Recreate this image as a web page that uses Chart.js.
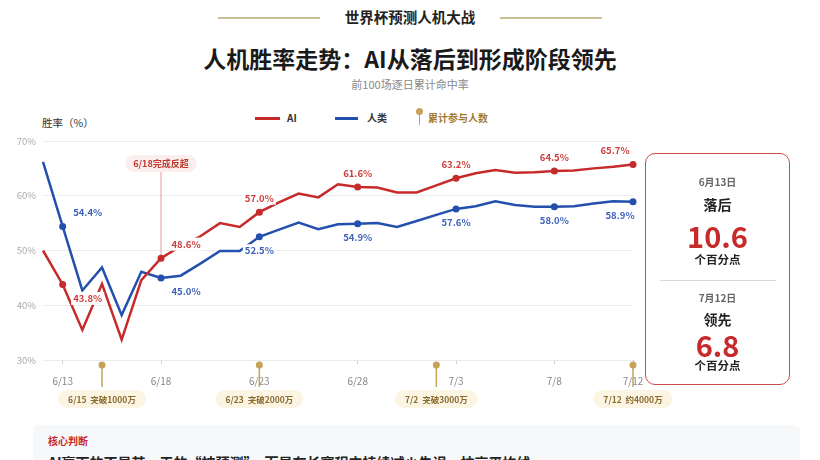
<!DOCTYPE html>
<html>
<head>
<meta charset="utf-8">
<script src="https://cdn.jsdelivr.net/npm/chart.js@4.4.1/dist/chart.umd.min.js"></script>
<style>
  body { margin: 0; width: 820px; height: 460px; overflow: hidden; background: #fff;
         font-family: "Noto Sans CJK SC", "Noto Sans", sans-serif; position: relative; }
  .abs { position: absolute; }
  .center { left: 0; width: 820px; text-align: center; }
  .gold-line { position: absolute; height: 1.5px; background: #cbbf93; top: 17px; }
  #chart-wrap { position: absolute; left: 0; top: 100px; width: 680px; height: 320px; }
  .box { position: absolute; left: 645px; top: 153px; width: 143px; height: 230px;
         border: 1.5px solid #cc4b4b; border-radius: 10px; background: #fff; }
  .box div { position: absolute; left: 0; width: 100%; text-align: center; }
  .panel { position: absolute; left: 33px; top: 425px; width: 767px; height: 60px;
           background: #f7f8fa; border-radius: 6px; }
</style>
</head>
<body>
<div class="gold-line" style="left:218px;width:102px"></div>
<div class="gold-line" style="left:500px;width:102px"></div>
<div class="abs center" style="top:6px;font-size:14.5px;font-weight:700;color:#222;line-height:22px">世界杯预测人机大战</div>
<div class="abs center" style="top:42px;font-size:23px;font-weight:700;color:#1a1a1a;line-height:32px">人机胜率走势：AI从落后到形成阶段领先</div>
<div class="abs center" style="top:76px;font-size:11px;color:#888;line-height:16px">前100场逐日累计命中率</div>

<div class="abs" style="left:42px;top:115px;font-size:10.5px;color:#333;line-height:16px">胜率（%）</div>

<!-- legend -->
<div class="abs" style="left:255px;top:116.5px;width:25px;height:3px;background:#c62a2a"></div>
<div class="abs" style="left:287px;top:110px;font-size:10px;font-weight:700;color:#333;line-height:16px">AI</div>
<div class="abs" style="left:335px;top:116.5px;width:23px;height:3px;background:#2350ad"></div>
<div class="abs" style="left:367px;top:110px;font-size:10px;font-weight:700;color:#333;line-height:16px">人类</div>
<div class="abs" style="left:415.5px;top:108px;width:7px;height:7px;border-radius:50%;background:#c9a25a"></div>
<div class="abs" style="left:418.5px;top:113px;width:1.5px;height:12px;background:#c9a25a"></div>
<div class="abs" style="left:428px;top:110px;font-size:10px;font-weight:700;color:#a27a34;line-height:16px">累计参与人数</div>

<div id="chart-wrap"><canvas id="chart" width="680" height="320"></canvas></div>

<div class="box">
  <div style="top:20px;font-size:10px;font-weight:700;color:#666;line-height:16px">6月13日</div>
  <div style="top:39px;font-size:14px;font-weight:700;color:#222;line-height:22px">落后</div>
  <div style="top:63px;font-size:29px;font-weight:700;color:#c62a2a;line-height:36px">10.6</div>
  <div style="top:96px;font-size:11.5px;font-weight:700;color:#222;line-height:18px">个百分点</div>
  <div style="top:126px;left:14px;width:116px;height:1px;background:#d8d8d8"></div>
  <div style="top:136px;font-size:10px;font-weight:700;color:#666;line-height:16px">7月12日</div>
  <div style="top:154px;font-size:14px;font-weight:700;color:#222;line-height:22px">领先</div>
  <div style="top:172px;font-size:29px;font-weight:700;color:#c62a2a;line-height:36px">6.8</div>
  <div style="top:202px;font-size:11.5px;font-weight:700;color:#222;line-height:18px">个百分点</div>
</div>

<div class="panel">
  <div class="abs" style="left:15px;top:8px;font-size:10px;font-weight:700;color:#c62a2a;line-height:16px">核心判断</div>
  <div class="abs" style="left:15px;top:27px;font-size:14px;font-weight:700;color:#222;line-height:20px;white-space:nowrap">AI赢下的不是某一天的“神预测”，而是在长赛程中持续减少失误，拉高平均线</div>
</div>

<script>
const days = ['6/12', '6/13', '6/14', '6/15', '6/16', '6/17', '6/18', '6/19', '6/20', '6/21',
              '6/22', '6/23', '6/24', '6/25', '6/26', '6/27', '6/28', '6/29', '6/30', '7/1',
              '7/2', '7/3', '7/4', '7/5', '7/6', '7/7', '7/8', '7/9', '7/10', '7/11', '7/12'];

const aiRate = [50.0, 43.8, 35.5, 43.9, 33.7, 44.6, 48.6, 50.8, 52.6, 55.0,
                54.3, 57.0, 58.8, 60.4, 59.7, 62.1, 61.6, 61.5, 60.6, 60.6,
                61.9, 63.2, 64.1, 64.7, 64.2, 64.3, 64.5, 64.6, 65.0, 65.3, 65.7];

const humanRate = [66.2, 54.4, 42.7, 46.9, 38.2, 46.1, 45.0, 45.4, 47.6, 49.9,
                   49.9, 52.5, 53.8, 55.1, 53.9, 54.8, 54.9, 55.0, 54.3, 55.4,
                   56.5, 57.6, 58.1, 59.0, 58.3, 58.0, 58.0, 58.1, 58.6, 59.0, 58.9];

// days that get a dot, a value label and an x tick
const keyDays = ['6/13', '6/18', '6/23', '6/28', '7/3', '7/8', '7/12'];

// milestones of total participants
const milestoneDays = ['6/15', '6/23', '7/2', '7/12'];
const milestoneText = ['6/15  突破1000万', '6/23  突破2000万', '7/2  突破3000万', '7/12  约4000万'];

const overtakeDay = '6/18';
const overtakeText = '6/18完成反超';

const RED = '#c62a2a';
const BLUE = '#2350ad';
const GOLD = '#c9a25a';

const keyIdx = keyDays.map(d => days.indexOf(d));

function roundRect(ctx, x, y, w, h, r) {
    ctx.beginPath();
    ctx.moveTo(x + r, y);
    ctx.arcTo(x + w, y, x + w, y + h, r);
    ctx.arcTo(x + w, y + h, x, y + h, r);
    ctx.arcTo(x, y + h, x, y, r);
    ctx.arcTo(x, y, x + w, y, r);
    ctx.closePath();
}

const fontFamily = '"Noto Sans CJK SC", "Noto Sans", sans-serif';

const annotations = {
    id: 'annotations',
    beforeDatasetsDraw(chart) {
        // 6/18 overtake callout
        const ctx = chart.ctx;
        const xs = chart.scales.x, ys = chart.scales.y;
        const i = days.indexOf(overtakeDay);
        const x = xs.getPixelForValue(i);
        const yPt = ys.getPixelForValue(aiRate[i]);
        ctx.save();
        ctx.strokeStyle = '#e39a9a';
        ctx.lineWidth = 1;
        ctx.beginPath();
        ctx.moveTo(x, 72);
        ctx.lineTo(x, yPt);
        ctx.stroke();
        ctx.font = '700 9px ' + fontFamily;
        const w = ctx.measureText(overtakeText).width + 16;
        ctx.fillStyle = '#fbeeee';
        roundRect(ctx, x - w / 2, 55, w, 17, 8.5);
        ctx.fill();
        ctx.fillStyle = '#c0392b';
        ctx.textAlign = 'center';
        ctx.textBaseline = 'middle';
        ctx.fillText(overtakeText, x, 63.5);
        ctx.restore();
    },
    afterDatasetsDraw(chart) {
        const ctx = chart.ctx;
        const xs = chart.scales.x, ys = chart.scales.y;
        ctx.save();
        ctx.font = '700 9.5px ' + fontFamily;
        ctx.textAlign = 'center';
        ctx.textBaseline = 'middle';
        const series = [[aiRate, RED, '#cf3d3d', -1], [humanRate, BLUE, '#3d62b8', 1]];
        series.forEach(([vals, line, txt, dir]) => {
            keyIdx.forEach((i, k) => {
                let dy = dir;
                let dx = 0;
                if (k === 0) { dy = -dir; dx = 25; }
                if (k === 1) dx = 25;
                if (k === keyIdx.length - 1) dx = dir > 0 ? -13 : -18;
                const x = xs.getPixelForValue(i) + dx;
                const y = ys.getPixelForValue(vals[i]) + dy * 14;
                const label = vals[i].toFixed(1) + '%';
                const w = ctx.measureText(label).width + 4;
                ctx.fillStyle = '#fff';
                ctx.fillRect(x - w / 2, y - 6.5, w, 13);
                ctx.fillStyle = txt;
                ctx.fillText(label, x, y);
            });
        });
        ctx.restore();
    },
    afterDraw(chart) {
        const ctx = chart.ctx;
        const xs = chart.scales.x;
        const base = chart.chartArea.bottom;
        ctx.save();
        ctx.font = '700 8.5px ' + fontFamily;
        ctx.textAlign = 'center';
        ctx.textBaseline = 'middle';
        milestoneDays.forEach((d, k) => {
            const x = xs.getPixelForValue(days.indexOf(d));
            ctx.strokeStyle = GOLD;
            ctx.lineWidth = 1.5;
            ctx.beginPath();
            ctx.moveTo(x, base + 5);
            ctx.lineTo(x, base + 27);
            ctx.stroke();
            ctx.fillStyle = GOLD;
            ctx.beginPath();
            ctx.arc(x, base + 5, 3.5, 0, Math.PI * 2);
            ctx.fill();
            const w = ctx.measureText(milestoneText[k]).width + 20;
            ctx.fillStyle = '#fcf5e4';
            roundRect(ctx, x - w / 2, base + 30, w, 18, 9);
            ctx.fill();
            ctx.fillStyle = '#8a6a2e';
            ctx.fillText(milestoneText[k], x, base + 39.5);
        });
        ctx.restore();
    }
};

const ctx = document.getElementById('chart').getContext('2d');
const chart = new Chart(ctx, {
    type: 'line',
    data: {
        labels: days,
        datasets: [{
            label: 'AI',
            data: aiRate,
            borderColor: RED,
            backgroundColor: RED,
            borderWidth: 2.5,
            tension: 0,
            pointRadius: c => keyIdx.includes(c.dataIndex) ? 3.5 : 0,
            pointBorderWidth: 0,
            pointBackgroundColor: RED
        }, {
            label: '人类',
            data: humanRate,
            borderColor: BLUE,
            backgroundColor: BLUE,
            borderWidth: 2.5,
            tension: 0,
            pointRadius: c => keyIdx.includes(c.dataIndex) ? 3.5 : 0,
            pointBorderWidth: 0,
            pointBackgroundColor: BLUE
        }]
    },
    options: {
        responsive: false,
        animation: false,
        layout: { padding: { top: 41, right: 47, left: 0, bottom: 0 } },
        plugins: { legend: { display: false }, tooltip: { enabled: false } },
        scales: {
            x: {
                offset: false,
                border: { display: false },
                grid: {
                    drawOnChartArea: false,
                    drawTicks: true,
                    tickLength: 4,
                    color: c => keyIdx.includes(c.index) ? '#cfcfcf' : 'rgba(0,0,0,0)'
                },
                ticks: {
                    autoSkip: false,
                    maxRotation: 0,
                    padding: 11,
                    color: '#888',
                    font: { size: 10, family: fontFamily },
                    callback: (v, i) => keyIdx.includes(i) ? days[i] : ''
                },
                afterFit: s => { s.height = 60; }
            },
            y: {
                min: 30,
                max: 70,
                border: { display: false },
                grid: { color: '#ebebeb', drawTicks: false },
                ticks: {
                    stepSize: 10,
                    padding: 7,
                    color: '#aaa',
                    font: { size: 9.5, family: fontFamily },
                    callback: v => v + '%'
                },
                afterFit: s => { s.width = 43; }
            }
        }
    },
    plugins: [annotations]
});
</script>
</body>
</html>
